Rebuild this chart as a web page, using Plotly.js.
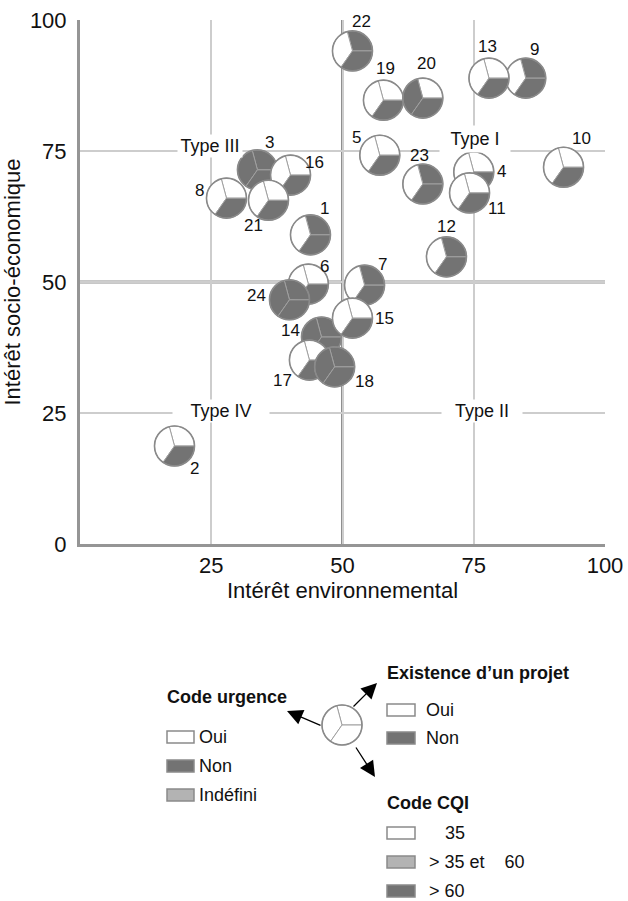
<!DOCTYPE html>
<html><head><meta charset="utf-8">
<script src="https://cdn.plot.ly/plotly-3.0.1.min.js"></script>
<style>html,body{margin:0;padding:0;background:#fff}</style>
</head><body><div id="chart" style="width:628px;height:901px"></div>
<script>
// ---- data ----
const ids = ['1','2','3','4','5','6','7','8','9','10','11','12','13','14','15','16','17','18','19','20','21','22','23','24'];
const envInterest   = [43.9,18.0,33.8,75.0,57.1,43.5,54.2,27.9,84.9,92.1,74.2,69.8,77.9,46.0,51.9,40.1,43.7,48.5,57.8,65.3,35.9,51.9,65.3,39.9];
const socioInterest = [59.0,18.7,71.4,71.0,74.2,49.6,49.4,66.0,88.9,71.9,67.0,54.8,88.9,39.5,43.1,70.4,35.1,33.8,84.7,85.1,65.6,94.1,68.7,46.6];
// Existence d'un projet
const projet  = ['Non','Oui','Non','Oui','Oui','Oui','Non','Oui','Non','Oui','Oui','Non','Oui','Non','Oui','Oui','Oui','Non','Oui','Oui','Oui','Non','Non','Non'];
// Code urgence
const urgence = ['Oui','Oui','Non','Oui','Oui','Oui','Oui','Oui','Oui','Oui','Oui','Oui','Oui','Non','Oui','Oui','Oui','Non','Oui','Non','Oui','Oui','Oui','Non'];
// Code CQI
const cqi     = ['>60','>60','>60','>60','>60','>60','>60','>60','>60','>60','>60','>60','>60','>60','>60','>60','>60','>60','>60','>60','>60','>60','>60','>60'];
const xTicks = [25,50,75,100];
const yTicks = [0,25,50,75,100];
const quadrantNames = ['Type I','Type II','Type III','Type IV'];
const urgenceCats = ['Oui','Non','Indéfini'];
const projetCats = ['Oui','Non'];
const cqiCats = ['35','> 35 et\u00a0\u00a0\u00a0\u00a060','> 60'];

// ---- styles / positions ----
const WHITE='#ffffff', DARK='#737373', MID='#b3b3b3';
const catColor = {'Oui':WHITE,'Non':DARK,'Indéfini':MID};
const FONT = 'Liberation Sans, Arial, Helvetica, sans-serif';
const R = 20;
// label offsets in px (dx right, dy down)
const labelOffsets = [[14,-26],[20,22],[12,-27],[28,0],[-23,-18],[16,-18],[18,-21],[-27,-8],[9,-29],[18,-29],[27,16],[0,-30],[-1,-32],[-31,-7],[32,0],[24,-13],[-27,20],[30,15],[2,-32],[4,-35],[-15,25],[9,-29],[-3,-29],[-33,-4]];
// sectors (degrees, counter-clockwise): projet top-right, urgence left, cqi bottom
const SECT = {projet:[0,105], urgence:[105,235], cqi:[235,360]};

function wedgePath(r,a0,a1){
  let p='M0,0'; const n=18;
  for(let i=0;i<=n;i++){const a=(a0+(a1-a0)*i/n)*Math.PI/180; p+=' L'+(r*Math.cos(a)).toFixed(2)+','+(r*Math.sin(a)).toFixed(2);}
  return p+' Z';
}
function pieShapes(xref,yref,xa,ya,cols,r){
  const out=[];
  const keys=['projet','urgence','cqi'];
  keys.forEach((k,i)=>{
    out.push({type:'path',xref:xref,yref:yref,xsizemode:'pixel',ysizemode:'pixel',xanchor:xa,yanchor:ya,
      path:wedgePath(r,SECT[k][0],SECT[k][1]),fillcolor:cols[i],line:{color:'#a0a0a0',width:1},layer:'above'});
  });
  out.push({type:'circle',xref:xref,yref:yref,xsizemode:'pixel',ysizemode:'pixel',xanchor:xa,yanchor:ya,
    x0:-r,x1:r,y0:-r,y1:r,line:{color:'#8a8a8a',width:1.6},fillcolor:'rgba(0,0,0,0)',layer:'above'});
  return out;
}
const shapes=[];
// reference lines at 50
shapes.push({type:'line',xref:'x',yref:'paper',x0:50,x1:50,y0:0,y1:1,line:{color:'#8f8f8f',width:3},layer:'below'});
shapes.push({type:'line',xref:'paper',yref:'y',x0:0,x1:1,y0:50,y1:50,line:{color:'#8f8f8f',width:3},layer:'below'});
ids.forEach((id,i)=>{
  const cq = cqi[i]==='>60'?DARK:(cqi[i]==='≤35'?WHITE:MID);
  shapes.push(...pieShapes('x','y',envInterest[i],socioInterest[i],[catColor[projet[i]],catColor[urgence[i]],cq],R));
});

// plot geometry helpers for the legend block (pixel -> paper)
const L=80, T=20, PW=525, PH=524;
const px = v => (v-L)/PW;
const py = v => (T+PH-v)/PH;

// legend icon
shapes.push(...pieShapes('paper','paper',px(342),py(725),[WHITE,WHITE,WHITE],20));
function swatch(x0,x1,yc,color){
  shapes.push({type:'rect',xref:'paper',yref:'paper',x0:px(x0),x1:px(x1),y0:py(yc+6),y1:py(yc-6),
    fillcolor:color,line:{color:'#8a8a8a',width:1.5},layer:'above'});
}
const annotations=[];
function txt(t,x,y,opt){
  annotations.push(Object.assign({text:t,xref:'paper',yref:'paper',x:px(x),y:py(y),xanchor:'left',yanchor:'middle',
    showarrow:false,font:{family:FONT,size:18,color:'#111'}},opt||{}));
}
// Code urgence
txt('<b>Code urgence</b>',165,697);
const urgCols=[WHITE,DARK,MID];
urgenceCats.forEach((c,i)=>{const yc=737+i*29; swatch(167,194,yc,urgCols[i]); txt(c,197,yc);});
// Existence d'un projet
txt('<b>Existence d’un projet</b>',385,673);
const prjCols=[WHITE,DARK];
projetCats.forEach((c,i)=>{const yc=710+i*28; swatch(387,415,yc,prjCols[i]); txt(c,424,yc);});
// Code CQI
txt('<b>Code CQI</b>',385,803);
const cqiCols=[WHITE,MID,DARK];
const cqiTextX=[443,427,427];
cqiCats.forEach((c,i)=>{const yc=833+i*29; swatch(387,415,yc,cqiCols[i]); txt(c,cqiTextX[i],yc);});
// arrows
function arrow(hx,hy,tx,ty){
  annotations.push({text:'',xref:'paper',yref:'paper',x:px(hx),y:py(hy),ax:tx-hx,ay:ty-hy,showarrow:true,
    arrowhead:2,arrowsize:2.4,arrowwidth:1.3,arrowcolor:'#000',standoff:0,startstandoff:0});
}
arrow(287,711,322,726);
arrow(377,683,352,708);
arrow(375,777,355,746);

// point labels
ids.forEach((id,i)=>{
  annotations.push({text:id,x:envInterest[i],y:socioInterest[i],xref:'x',yref:'y',showarrow:false,
    xshift:labelOffsets[i][0],yshift:-labelOffsets[i][1],font:{family:FONT,size:17,color:'#111'}});
});
// quadrant labels
const quadPos = {'Type I':[75.3,75,12,70,26],'Type II':[76.5,25,2,80,22],'Type III':[24.7,75,5,64,22],'Type IV':[26.8,25,2,96,22]};
quadrantNames.forEach(q=>{
  const p=quadPos[q];
  annotations.push({text:q,x:p[0],y:p[1],xref:'x',yref:'y',showarrow:false,yshift:p[2],width:p[3],height:p[4],
    bgcolor:'#ffffff',borderpad:0,font:{family:FONT,size:18,color:'#111'}});
});

const trace = {type:'scatter',mode:'markers',x:envInterest,y:socioInterest,text:ids,
  marker:{size:2*R,color:'rgba(0,0,0,0)'},hoverinfo:'text',showlegend:false};

const layout = {
  width:628,height:901,margin:{l:L,r:628-L-PW,t:T,b:901-T-PH},
  paper_bgcolor:'#fff',plot_bgcolor:'#fff',showlegend:false,
  font:{family:FONT,color:'#111'},
  xaxis:{range:[0,100],tickvals:xTicks,ticktext:xTicks.map(String),showgrid:true,gridcolor:'#cdcdcd',gridwidth:2,
    zeroline:false,showline:true,linecolor:'#959595',linewidth:3,ticks:'',tickfont:{size:22,color:'#111'},
    title:{text:'Intérêt environnemental',font:{size:22,color:'#111'},standoff:2},fixedrange:true},
  yaxis:{range:[0,100],tickvals:yTicks,ticktext:yTicks.map(String),showgrid:true,gridcolor:'#cdcdcd',gridwidth:2,
    zeroline:false,showline:true,linecolor:'#959595',linewidth:3,ticks:'',tickfont:{size:22,color:'#111'},ticklabelstandoff:6,
    title:{text:'Intérêt socio-économique',font:{size:22,color:'#111'},standoff:4},fixedrange:true},
  shapes:shapes,annotations:annotations
};
Plotly.newPlot('chart',[trace],layout,{displayModeBar:false,staticPlot:true});
</script></body></html>
